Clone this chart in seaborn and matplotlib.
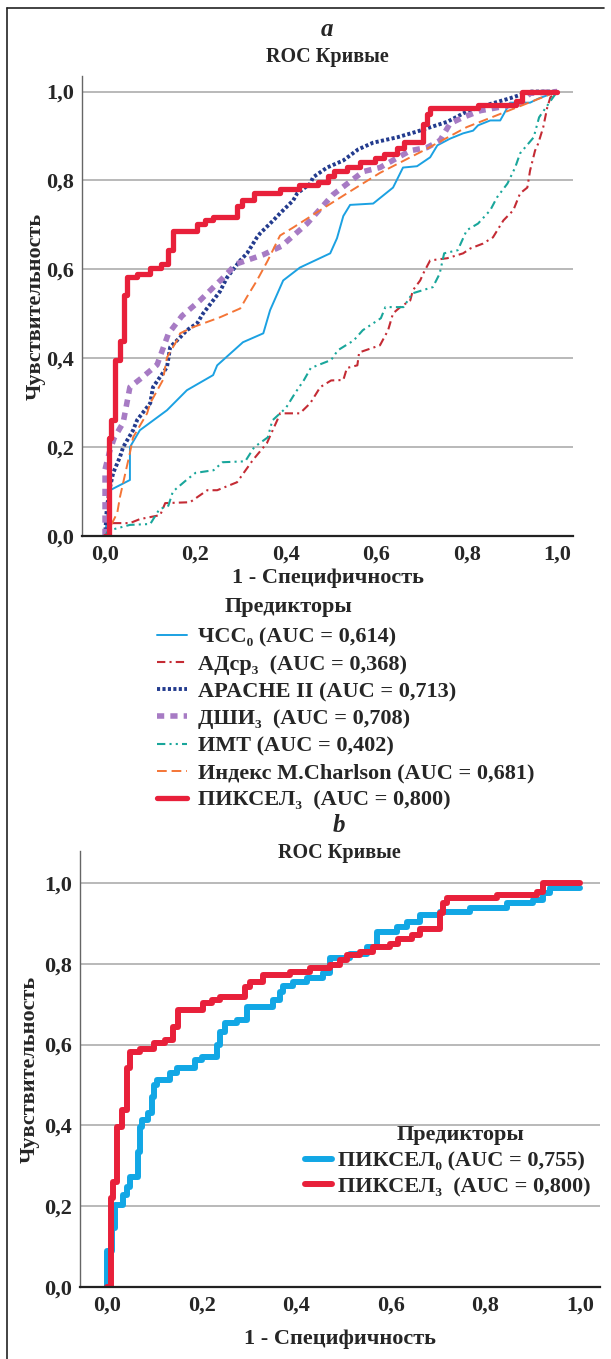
import matplotlib
matplotlib.use('Agg')
import matplotlib.pyplot as plt
import seaborn as sns
import pandas as pd
from matplotlib.lines import Line2D

# -- Panel a: ROC curves of all predictors (1 - specificity, sensitivity) --
hr0_fpr = [0, 0.011, 0.055, 0.055, 0.077, 0.137, 0.181, 0.239, 0.248, 0.305, 0.35, 0.365, 0.394, 0.431,
           0.498, 0.513, 0.527, 0.542, 0.593, 0.637, 0.659, 0.69, 0.719, 0.735, 0.763, 0.792, 0.814,
           0.825, 0.852, 0.874, 0.896, 0.94, 0.958, 1.0]
hr0_tpr = [0, 0.103, 0.126, 0.2, 0.238, 0.283, 0.328, 0.362, 0.384, 0.436, 0.456, 0.508, 0.575, 0.604,
           0.636, 0.67, 0.72, 0.745, 0.748, 0.784, 0.829, 0.832, 0.852, 0.879, 0.894, 0.906, 0.912,
           0.924, 0.935, 0.935, 0.975, 0.975, 0.984, 1.0]

map3_fpr = [0, 0.005, 0.055, 0.077, 0.122, 0.133, 0.188, 0.226, 0.248, 0.292, 0.327, 0.358, 0.381, 0.387,
            0.431, 0.454, 0.476, 0.5, 0.527, 0.535, 0.558, 0.562, 0.608, 0.626, 0.637, 0.653, 0.675,
            0.681, 0.697, 0.704, 0.719, 0.757, 0.792, 0.808, 0.836, 0.858, 0.881, 0.903, 0.918, 0.934,
            0.94, 0.951, 0.958, 0.969, 0.978, 0.985, 1.0]
map3_tpr = [0, 0.029, 0.029, 0.038, 0.047, 0.074, 0.076, 0.103, 0.103, 0.121, 0.171, 0.209, 0.261, 0.276,
            0.276, 0.299, 0.335, 0.35, 0.351, 0.378, 0.384, 0.413, 0.429, 0.463, 0.501, 0.515, 0.53,
            0.553, 0.575, 0.591, 0.62, 0.625, 0.636, 0.647, 0.658, 0.672, 0.71, 0.733, 0.771, 0.784,
            0.822, 0.867, 0.883, 0.919, 0.964, 0.987, 1.0]

apache_fpr = [0, 0.004, 0.011, 0.018, 0.033, 0.04, 0.062, 0.071, 0.1, 0.106, 0.137, 0.144, 0.166, 0.181,
              0.204, 0.217, 0.239, 0.254, 0.27, 0.299, 0.314, 0.336, 0.343, 0.372, 0.387, 0.416, 0.425,
              0.454, 0.46, 0.491, 0.527, 0.56, 0.593, 0.646, 0.69, 0.757, 0.8, 0.845, 0.896, 0.94, 1.0]
apache_tpr = [0, 0.065, 0.11, 0.142, 0.178, 0.2, 0.238, 0.261, 0.299, 0.335, 0.38, 0.425, 0.447, 0.463,
              0.479, 0.501, 0.53, 0.55, 0.582, 0.62, 0.636, 0.672, 0.681, 0.71, 0.726, 0.755, 0.771,
              0.793, 0.807, 0.829, 0.845, 0.87, 0.885, 0.897, 0.91, 0.932, 0.955, 0.97, 0.985, 1.0, 1.0]

dshi3_fpr = [0, 0, 0, 0.01, 0.02, 0.04, 0.055, 0.08, 0.115, 0.14, 0.17, 0.21, 0.26, 0.29, 0.35, 0.39,
             0.447, 0.504, 0.571, 0.608, 0.675, 0.712, 0.741, 0.763, 0.792, 0.83, 0.918, 0.94, 1.0]
dshi3_tpr = [0, 0.05, 0.15, 0.19, 0.22, 0.255, 0.335, 0.355, 0.385, 0.455, 0.495, 0.53, 0.58, 0.612,
             0.633, 0.652, 0.703, 0.768, 0.82, 0.829, 0.867, 0.874, 0.89, 0.928, 0.942, 0.957, 0.973,
             0.996, 1.0]

bmi_fpr = [0, 0.007, 0.055, 0.1, 0.12, 0.14, 0.15, 0.18, 0.2, 0.24, 0.26, 0.31, 0.33, 0.36, 0.37, 0.4,
           0.42, 0.44, 0.455, 0.5, 0.515, 0.55, 0.57, 0.61, 0.62, 0.66, 0.68, 0.725, 0.74, 0.75, 0.78,
           0.8, 0.825, 0.852, 0.867, 0.89, 0.907, 0.918, 0.948, 0.96, 0.975, 1.0]
bmi_tpr = [0, 0.012, 0.025, 0.027, 0.06, 0.068, 0.1, 0.126, 0.142, 0.148, 0.166, 0.168, 0.2, 0.222,
           0.26, 0.288, 0.321, 0.351, 0.378, 0.396, 0.418, 0.44, 0.463, 0.49, 0.515, 0.515, 0.546,
           0.56, 0.59, 0.636, 0.643, 0.688, 0.703, 0.733, 0.762, 0.793, 0.829, 0.861, 0.897, 0.942,
           0.964, 1.0]

charlson_fpr = [0, 0.007, 0.011, 0.027, 0.033, 0.055, 0.062, 0.093, 0.1, 0.128, 0.137, 0.159, 0.166,
                0.195, 0.254, 0.299, 0.315, 0.336, 0.36, 0.387, 0.416, 0.476, 0.535, 0.608, 0.7, 0.8,
                0.9, 1.0]
charlson_tpr = [0, 0.0, 0.02, 0.052, 0.088, 0.187, 0.222, 0.276, 0.299, 0.351, 0.402, 0.44, 0.456,
                0.47, 0.492, 0.512, 0.54, 0.575, 0.62, 0.676, 0.694, 0.733, 0.771, 0.817, 0.865, 0.92,
                0.96, 1.0]

# ПИКСЕЛ at day 3 (same curve in both panels)
pix3_fpr = [0, 0.008, 0.008, 0.013, 0.013, 0.021, 0.021, 0.032, 0.032, 0.042, 0.042, 0.049, 0.049,
            0.07, 0.07, 0.1, 0.1, 0.123, 0.123, 0.14, 0.14, 0.15, 0.15, 0.203, 0.203, 0.222, 0.222,
            0.239, 0.239, 0.292, 0.292, 0.302, 0.302, 0.33, 0.33, 0.387, 0.387, 0.429, 0.429, 0.471,
            0.471, 0.493, 0.493, 0.507, 0.507, 0.535, 0.535, 0.563, 0.563, 0.598, 0.598, 0.616, 0.616,
            0.645, 0.645, 0.662, 0.662, 0.704, 0.704, 0.711, 0.711, 0.718, 0.718, 0.824, 0.824, 0.909,
            0.909, 0.922, 0.922, 1.0]
pix3_tpr = [0, 0, 0.22, 0.22, 0.26, 0.26, 0.396, 0.396, 0.438, 0.438, 0.542, 0.542, 0.582,
            0.582, 0.59, 0.59, 0.604, 0.604, 0.611, 0.611, 0.644, 0.644, 0.686, 0.686, 0.703, 0.703,
            0.71, 0.71, 0.718, 0.718, 0.743, 0.743, 0.755, 0.755, 0.772, 0.772, 0.78, 0.78, 0.79, 0.79,
            0.797, 0.797, 0.809, 0.809, 0.822, 0.822, 0.83, 0.83, 0.842, 0.842, 0.85, 0.85, 0.86,
            0.86, 0.872, 0.872, 0.886, 0.886, 0.926, 0.926, 0.95, 0.95, 0.963, 0.963, 0.97, 0.97,
            0.978, 0.978, 1.0, 1.0]

# -- Panel b: ПИКСЕЛ at day 0 --
pix0_fpr = [0, 0, 0.01, 0.01, 0.017, 0.017, 0.034, 0.034, 0.042, 0.042, 0.049, 0.049, 0.066, 0.066,
            0.07, 0.07, 0.074, 0.074, 0.087, 0.087, 0.095, 0.095, 0.1, 0.1, 0.106, 0.106, 0.133,
            0.133, 0.148, 0.148, 0.186, 0.186, 0.201, 0.201, 0.233, 0.233, 0.239, 0.239, 0.249, 0.249,
            0.275, 0.275, 0.296, 0.296, 0.351, 0.351, 0.366, 0.366, 0.372, 0.372, 0.393, 0.393, 0.423,
            0.423, 0.457, 0.457, 0.471, 0.471, 0.514, 0.514, 0.55, 0.55, 0.571, 0.571, 0.613, 0.613,
            0.634, 0.634, 0.662, 0.662, 0.704, 0.704, 0.767, 0.767, 0.846, 0.846, 0.901, 0.901, 0.922,
            0.922, 0.937, 0.937, 1.0]
pix0_tpr = [0, 0.09, 0.09, 0.146, 0.146, 0.203, 0.203, 0.228, 0.228, 0.248, 0.248, 0.272, 0.272,
            0.334, 0.334, 0.396, 0.396, 0.413, 0.413, 0.431, 0.431, 0.47, 0.47, 0.5, 0.5, 0.512,
            0.512, 0.53, 0.53, 0.542, 0.542, 0.562, 0.562, 0.569, 0.569, 0.599, 0.599, 0.631, 0.631,
            0.653, 0.653, 0.661, 0.661, 0.693, 0.693, 0.71, 0.71, 0.73, 0.73, 0.745, 0.745, 0.755,
            0.755, 0.765, 0.765, 0.777, 0.777, 0.815, 0.815, 0.825, 0.825, 0.842, 0.842, 0.879, 0.879,
            0.891, 0.891, 0.903, 0.903, 0.921, 0.921, 0.928, 0.928, 0.938, 0.938, 0.95, 0.95, 0.958,
            0.958, 0.975, 0.975, 0.988, 0.988]

labels_a = ['ЧСС₀ (AUC = 0,614)', 'АДср₃  (AUC = 0,368)', 'APACHE II (AUC = 0,713)',
            'ДШИ₃  (AUC = 0,708)', 'ИМТ (AUC = 0,402)', 'Индекс M.Charlson (AUC = 0,681)',
            'ПИКСЕЛ₃  (AUC = 0,800)']
labels_b = ['ПИКСЕЛ₀ (AUC = 0,755)', 'ПИКСЕЛ₃  (AUC = 0,800)']
ticks = [0.0, 0.2, 0.4, 0.6, 0.8, 1.0]
tick_labels = ['0,0', '0,2', '0,4', '0,6', '0,8', '1,0']

sns.set_theme(style='white')
plt.rcParams['font.family'] = ['Liberation Serif', 'DejaVu Serif']
plt.rcParams['font.weight'] = 'bold'

W, H = 611, 1359
fig = plt.figure(figsize=(W / 100, H / 100), dpi=100)


def fx(px):
    return px / W


def fy(py):
    return 1 - py / H


def style_axes(ax, xpad, ypad):
    ax.set_xticks(ticks)
    ax.set_xticklabels(tick_labels, fontsize=16, fontweight='bold')
    ax.set_yticks(ticks)
    ax.set_yticklabels(tick_labels, fontsize=16, fontweight='bold')
    ax.tick_params(length=0, pad=6)
    for y in ticks[1:]:
        ax.axhline(y, color='#a6a6a6', lw=1.1, zorder=0)
    for s in ['top', 'right']:
        ax.spines[s].set_visible(False)
    ax.spines['left'].set_color('#666666')
    ax.spines['left'].set_linewidth(1.0)
    ax.spines['bottom'].set_color('#222222')
    ax.spines['bottom'].set_linewidth(1.6)
    ax.set_xlabel('1 - Специфичность', fontsize=16, fontweight='bold', labelpad=xpad)
    ax.set_ylabel('Чувствительность', fontsize=16, fontweight='bold', labelpad=ypad)


def curve(ax, fpr, tpr, **kw):
    df = pd.DataFrame({'fpr': fpr, 'tpr': tpr})
    sns.lineplot(data=df, x='fpr', y='tpr', ax=ax, sort=False, estimator=None, **kw)


# -- Panel a --
ax1 = fig.add_axes([fx(82), fy(536), fx(573 - 82), (536 - 76) / H])
curve(ax1, hr0_fpr, hr0_tpr, color='#1ba1e2', lw=1.4, label=labels_a[0])
curve(ax1, map3_fpr, map3_tpr, color='#c42b34', lw=1.5, linestyle=(0, (4, 2, 1, 2)), label=labels_a[1])
curve(ax1, apache_fpr, apache_tpr, color='#233b8e', lw=2.8, linestyle=(0, (0.8, 0.6)), label=labels_a[2])
curve(ax1, dshi3_fpr, dshi3_tpr, color='#a77bc4', lw=4.0, linestyle=(0, (1.3, 1.1)), label=labels_a[3])
curve(ax1, bmi_fpr, bmi_tpr, color='#19a69b', lw=1.5, linestyle=(0, (4, 2, 1, 2, 1, 2)), label=labels_a[4])
curve(ax1, charlson_fpr, charlson_tpr, color='#f47536', lw=1.4, linestyle=(0, (5, 2.5)), label=labels_a[5])
curve(ax1, pix3_fpr, pix3_tpr, color='#e8203a', lw=3.8, label=labels_a[6])
ax1.set_xlim(-0.051, 1.035)
ax1.set_ylim(0, 1.035)
style_axes(ax1, xpad=3, ypad=0)
ax1.legend(loc='upper left', bbox_to_anchor=(fx(157), fy(627)), bbox_transform=fig.transFigure,
           frameon=False, fontsize=16, handlelength=1.35, handletextpad=0.5, labelspacing=0.3,
           borderpad=0, borderaxespad=0)
fig.text(fx(288), fy(607), 'Предикторы', ha='center', va='center', fontsize=16, fontweight='bold')
fig.text(fx(327), fy(30), 'a', ha='center', va='center', fontsize=18, fontweight='bold', style='italic')
fig.text(fx(327), fy(57), 'ROC Кривые', ha='center', va='center', fontsize=14.5, fontweight='bold')

# -- Panel b --
ax2 = fig.add_axes([fx(80), fy(1287), fx(600 - 80), (1287 - 851) / H])
curve(ax2, pix0_fpr, pix0_tpr, color='#12a7e5', lw=4.3, label=labels_b[0])
curve(ax2, pix3_fpr, pix3_tpr, color='#e8203a', lw=4.3, label=labels_b[1])
ax2.set_xlim(-0.057, 1.042)
ax2.set_ylim(0, 1.079)
style_axes(ax2, xpad=10, ypad=3)
ax2.legend(loc='upper left', bbox_to_anchor=(fx(305), fy(1151)), bbox_transform=fig.transFigure,
           frameon=False, fontsize=16, handlelength=1.2, handletextpad=0.3, labelspacing=0.22,
           borderpad=0, borderaxespad=0)
fig.text(fx(460), fy(1135), 'Предикторы', ha='center', va='center', fontsize=16, fontweight='bold')
fig.text(fx(339), fy(826), 'b', ha='center', va='center', fontsize=18, fontweight='bold', style='italic')
fig.text(fx(339), fy(853), 'ROC Кривые', ha='center', va='center', fontsize=14.5, fontweight='bold')

# -- Frame --
fig.add_artist(Line2D([fx(7), fx(7)], [0, fy(8)], transform=fig.transFigure, color='#222222', lw=1.2))
fig.add_artist(Line2D([fx(7), fx(604)], [fy(8), fy(8)], transform=fig.transFigure, color='#222222', lw=1.2))

fig.savefig('out.png', dpi=100)
